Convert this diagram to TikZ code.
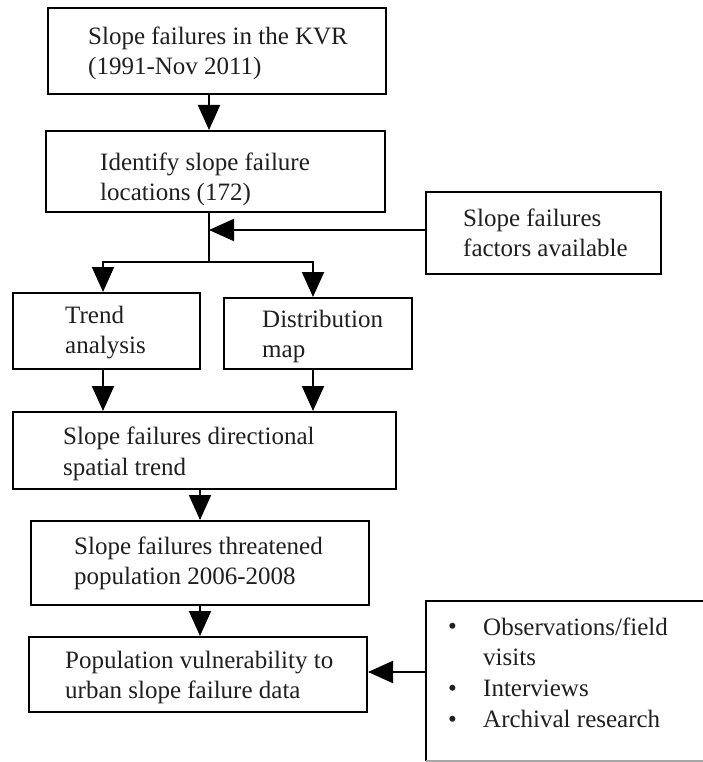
\documentclass[tikz,border=0pt]{standalone}
\usepackage{fontspec}
\setmainfont{Liberation Serif}
\usetikzlibrary{arrows.meta}
\begin{document}
\begin{tikzpicture}[x=1pt,y=-1pt,
  box/.style={draw=black,line width=2pt,inner sep=0pt,fill=white},
  txt/.style={anchor=base west,align=left,inner sep=0pt,text=black!88,
    font=\fontsize{25}{30.5}\selectfont},
  ln/.style={line width=2pt,draw=black},
  arr/.style={ln,-{Triangle[width=22pt,length=25pt]}}]
\useasboundingbox (0,0) rectangle (702,762);
% boxes
\node[box,line width=2.6pt,minimum width=338pt,minimum height=86pt] (b1) at (217,51) {};
\node[box,minimum width=339pt,minimum height=81pt] (b2) at (215.5,171.5) {};
\node[box,minimum width=235pt,minimum height=82pt] (fac) at (543.5,233) {};
\node[box,minimum width=187pt,minimum height=76pt] (trend) at (106.5,331) {};
\node[box,minimum width=188pt,minimum height=71pt] (dist) at (318,333.5) {};
\node[box,minimum width=383pt,minimum height=77pt] (dir) at (204.5,450.5) {};
\node[box,minimum width=338pt,minimum height=84pt] (thr) at (200,563) {};
\node[box,minimum width=338pt,minimum height=75pt] (pop) at (198,674.5) {};
\node[inner sep=0pt,minimum width=304pt,minimum height=160pt] (src) at (578,681) {};
\draw[ln] (src.north east) -- (src.north west) -- (src.south west);
\draw[line width=2pt,draw=black!35] (src.south west) -- (src.south east);
% texts (base anchor = baseline of the last line)
\node[txt] (t1) at (88,75) {Slope failures in the KVR\\(1991-Nov 2011)};
\node[txt,font=\fontsize{25}{29}\selectfont] (t2) at (100,200) {Identify slope failure\\locations (172)};
\node[txt] (t3) at (463,256.5) {Slope failures\\factors available};
\node[txt] (t4) at (65,353.5) {Trend\\analysis};
\node[txt] (t5) at (262,357.5) {Distribution\\map};
\node[txt] (t6) at (63,475) {Slope failures directional\\spatial trend};
\node[txt] (t7) at (74,584.5) {Slope failures threatened\\population 2006-2008};
\node[txt] (t8) at (65,698.5) {Population vulnerability to\\urban slope failure data};
\node[txt] (u1) at (448,634) {\textbullet};
\node[txt] (s1) at (483,665.5) {Observations/field\\visits};
\node[txt] (u2) at (448,696) {\textbullet};
\node[txt] (s2) at (483,696) {Interviews};
\node[txt] (u3) at (448,727) {\textbullet};
\node[txt] (s3) at (483,727) {Archival research};
% connectors
\coordinate (stem) at (209,262);
\draw[arr] (b1.south -| stem) -- (b2.north -| stem);
\draw[ln] (b2.south -| stem) -- (stem);
\draw[arr] ([yshift=3pt]fac.west) -- ([yshift=3pt]fac.west -| stem);
\draw[arr] (stem) -| ([xshift=-3.5pt]trend.north);
\draw[arr] (stem) -| ([xshift=-5pt]dist.north);
\draw[arr] ([xshift=-3.5pt]trend.south) -- ([xshift=-3.5pt]trend.south |- dir.north);
\draw[arr] ([xshift=-5pt]dist.south) -- ([xshift=-5pt]dist.south |- dir.north);
\draw[arr] (dir.south -| thr.north) -- (thr.north);
\draw[arr] (thr.south) -- (thr.south |- pop.north);
\draw[arr] ([yshift=9pt]src.west) -- ([yshift=9pt]src.west -| pop.east);
\end{tikzpicture}
\end{document}
